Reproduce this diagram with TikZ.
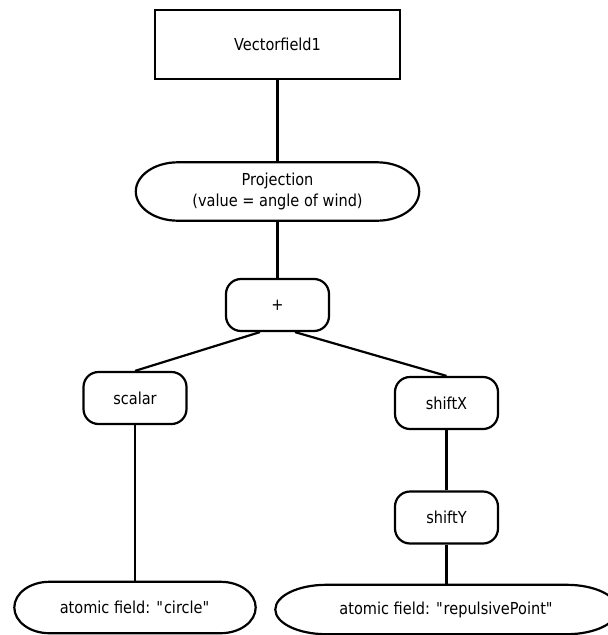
\documentclass[tikz,border=0pt]{standalone}
\usepackage{fontspec}
\setmainfont{DejaVu Sans}[FakeStretch=0.88]
\usetikzlibrary{calc}
\newcommand{\capsule}[2]{\draw[outline] let \p1=(#1.north west), \p2=(#1.south east) in
  (\x1+#2pt,\y1) -- (\x2-#2pt,\y1) arc[start angle=90,end angle=-90,x radius=#2pt,y radius=(\y1-\y2)/2]
  -- (\x1+#2pt,\y2) arc[start angle=270,end angle=90,x radius=#2pt,y radius=(\y1-\y2)/2] -- cycle;}

\begin{document}
\begin{tikzpicture}[x=1pt,y=1pt,
  txt/.style={font=\fontsize{16.5}{21}\selectfont,align=center,inner sep=0pt},
  box/.style={txt,draw,line width=2.8pt,minimum width=245pt,minimum height=69pt},
  op/.style={txt,draw,line width=2.2pt,rounded corners=15pt,minimum width=103pt,minimum height=52pt},
  term/.style={txt},
  outline/.style={line width=2.2pt},
  link/.style={line width=2.2pt}]
  \useasboundingbox (0,0) rectangle (608,-635);
  \node[box] (vf) at (277.5,-44.5) {Vectorfield1};
  \node[term,minimum width=283pt,minimum height=58pt] (proj) at (277.5,-191.5) {Projection\\(value = angle of wind)};
  \node[op] (plus) at (277.5,-305) {+};
  \node[op] (scalar) at (135,-398) {scalar};
  \node[op] (sx) at (446.5,-403) {shiftX};
  \node[op] (sy) at (446.5,-517.5) {shiftY};
  \node[term,minimum width=241pt,minimum height=51pt] (circ) at (135,-607.5) {atomic field: \textquotedbl circle\textquotedbl};
  \node[term,minimum width=342pt,minimum height=49pt] (rep) at (446.5,-609.5) {atomic field: \textquotedbl repulsivePoint\textquotedbl};
  \capsule{proj}{42}
  \capsule{circ}{35}
  \capsule{rep}{51}
  \draw[link] (vf.south) -- (proj.north);
  \draw[link] (proj.south) -- (plus.north);
  \draw[link] ([xshift=-17.5pt]plus.south) -- (scalar.north);
  \draw[link] ([xshift=17.5pt]plus.south) -- (sx.north);
  \draw[link] (scalar.south) -- (circ.north);
  \draw[link] (sx.south) -- (sy.north);
  \draw[link] (sy.south) -- (rep.north);
\end{tikzpicture}
\end{document}
